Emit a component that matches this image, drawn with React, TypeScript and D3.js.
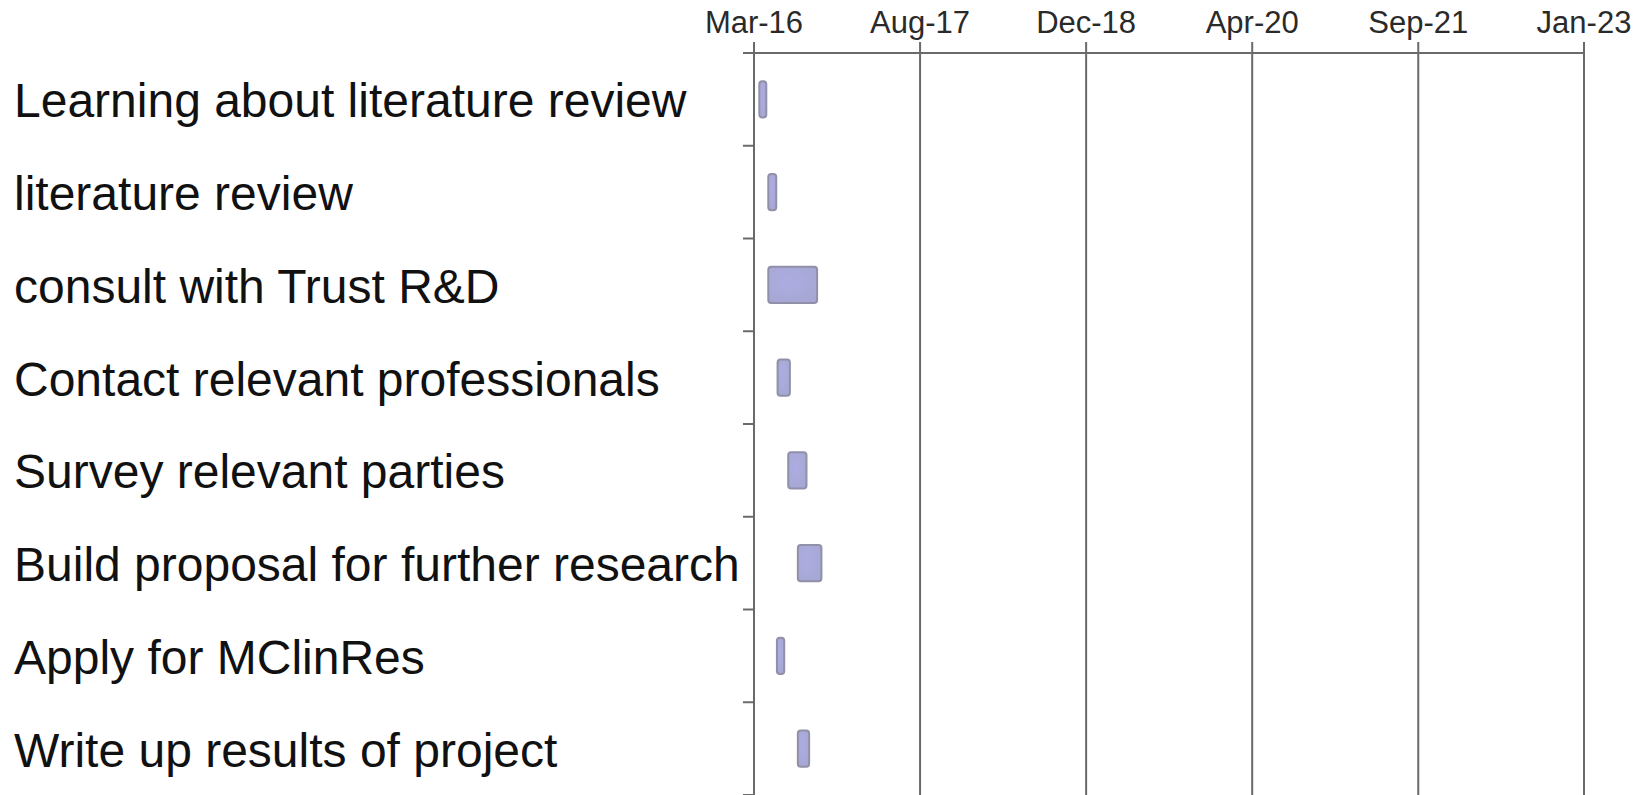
import React from "react";
import * as d3 from "d3";

const tasks: string[] = [
  "Learning about literature review",
  "literature review",
  "consult with Trust R&D",
  "Contact relevant professionals",
  "Survey relevant parties",
  "Build proposal for further research",
  "Apply for MClinRes",
  "Write up results of project",
];
const startDates: string[] = [
  "2016-04-03",
  "2016-04-30",
  "2016-04-30",
  "2016-05-28",
  "2016-06-29",
  "2016-07-28",
  "2016-05-26",
  "2016-07-28",
];
const endDates: string[] = [
  "2016-04-30",
  "2016-05-30",
  "2016-09-30",
  "2016-07-10",
  "2016-08-29",
  "2016-10-13",
  "2016-06-23",
  "2016-09-06",
];
const tickLabels: string[] = ["Mar-16", "Aug-17", "Dec-18", "Apr-20", "Sep-21", "Jan-23"];
const tickDates: string[] = [
  "2016-03-21",
  "2017-08-03",
  "2018-12-16",
  "2020-04-29",
  "2021-09-11",
  "2023-01-23",
];

const W = 1652;
const H = 795;
const M = { top: 53, right: 68, bottom: 0, left: 754 };

export default function App() {
  const parse = d3.utcParse("%Y-%m-%d");
  const ticks = tickDates.map((d) => parse(d) as Date);
  const x = d3
    .scaleUtc()
    .domain([ticks[0], ticks[ticks.length - 1]])
    .range([M.left, W - M.right]);
  const y = d3
    .scaleBand<string>()
    .domain(tasks)
    .range([M.top, H - M.bottom])
    .paddingInner(0.59)
    .paddingOuter(0.295);
  const band = d3
    .scaleBand<string>()
    .domain(tasks)
    .range([M.top, H - M.bottom]);

  const gridColor = "#6a6a6a";
  const font = "'Liberation Sans', Arial, sans-serif";

  return (
    <div style={{ position: "absolute", left: 0, top: 0 }}>
      <svg width={W} height={H} style={{ display: "block", background: "#fff" }}>
        <defs>
          <radialGradient id="barGrad" cx="40%" cy="40%" r="70%">
            <stop offset="0%" stopColor="#acace2" />
            <stop offset="100%" stopColor="#a7a7d3" />
          </radialGradient>
        </defs>
        {ticks.map((t, i) => (
          <g key={"g" + i}>
            <line
              x1={x(t)}
              x2={x(t)}
              y1={M.top - 11}
              y2={H}
              stroke={gridColor}
              strokeWidth={2}
            />
            <text
              x={x(t)}
              y={33}
              textAnchor="middle"
              fontFamily={font}
              fontSize={31}
              fill="#2a2a2a"
            >
              {tickLabels[i]}
            </text>
          </g>
        ))}
        <line
          x1={M.left - 11}
          x2={x(ticks[ticks.length - 1])}
          y1={M.top}
          y2={M.top}
          stroke={gridColor}
          strokeWidth={2}
        />
        {tasks.map((t) => (
          <line
            key={"yt" + t}
            x1={M.left - 11}
            x2={M.left}
            y1={(band(t) as number) + band.bandwidth()}
            y2={(band(t) as number) + band.bandwidth()}
            stroke={gridColor}
            strokeWidth={2}
          />
        ))}
        {tasks.map((t) => (
          <text
            key={"l" + t}
            x={14}
            y={(band(t) as number) + band.bandwidth() / 2 + 18}
            fontFamily={font}
            fontSize={48}
            fill="#111"
          >
            {t}
          </text>
        ))}
        {tasks.map((t, i) => {
          const x0 = x(parse(startDates[i]) as Date);
          const x1 = x(parse(endDates[i]) as Date);
          return (
            <rect
              key={"b" + t}
              x={x0 + 1}
              y={(y(t) as number) + 1}
              width={Math.max(0, x1 - x0 - 2)}
              height={y.bandwidth() - 2}
              rx={3}
              fill="url(#barGrad)"
              stroke="#9090a8"
              strokeWidth={2}
            />
          );
        })}
      </svg>
    </div>
  );
}
